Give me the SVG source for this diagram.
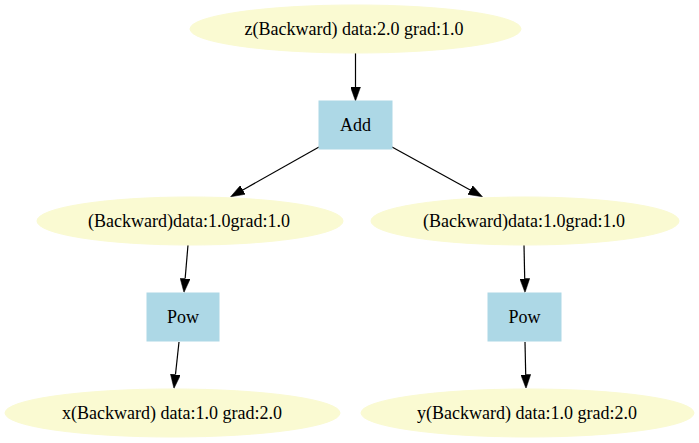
<svg xmlns="http://www.w3.org/2000/svg" width="699" height="443" viewBox="0 0 699 443">
<style>
.var{fill:#fafad2;stroke:#fafad2}
.op{fill:#add8e6;stroke:#add8e6}
.edge{stroke:#000;stroke-width:1.2;fill:none}
</style>
<defs>
<marker id="arr" viewBox="0 0 14 10" refX="0" refY="5" markerWidth="14" markerHeight="10" markerUnits="userSpaceOnUse" orient="auto">
<path d="M0,0 L14,5 L0,10 z" fill="#000" stroke="#000" stroke-width="0.5"/>
</marker>
</defs>
<rect width="699" height="443" fill="#fff"/>
<g id="edges">
<path class="edge" marker-end="url(#arr)" d="M355.5,53 L355.5,87"/>
<path class="edge" marker-end="url(#arr)" d="M319,147 L242.8,189.9"/>
<path class="edge" marker-end="url(#arr)" d="M392,147 L470.2,190"/>
<path class="edge" marker-end="url(#arr)" d="M188,245 L185.15,278.55"/>
<path class="edge" marker-end="url(#arr)" d="M179,342 L175.46,374.58"/>
<path class="edge" marker-end="url(#arr)" d="M524,245 L524.71,278.5"/>
<path class="edge" marker-end="url(#arr)" d="M525,342 L525.71,374.5"/>
</g>
<g font-family="Liberation Serif, Times New Roman, DejaVu Serif, serif" font-size="18" text-anchor="middle" fill="#000">
<g id="z">
<ellipse class="var" cx="355.5" cy="29" rx="165.5" ry="24"/>
<text x="354" y="35">z(Backward) data:2.0 grad:1.0</text>
</g>
<g id="add">
<rect class="op" x="319" y="101" width="73" height="48"/>
<text x="355.5" y="131">Add</text>
</g>
<g id="mid_left">
<ellipse class="var" cx="190" cy="221" rx="153" ry="24"/>
<text x="189" y="227">(Backward)data:1.0grad:1.0</text>
</g>
<g id="mid_right">
<ellipse class="var" cx="525" cy="221" rx="154" ry="24"/>
<text x="524" y="227">(Backward)data:1.0grad:1.0</text>
</g>
<g id="pow_left">
<rect class="op" x="147" y="293" width="72" height="48"/>
<text x="183" y="323">Pow</text>
</g>
<g id="pow_right">
<rect class="op" x="488" y="293" width="73" height="48"/>
<text x="524.5" y="323">Pow</text>
</g>
<g id="x">
<ellipse class="var" cx="172.5" cy="413" rx="167.5" ry="24"/>
<text x="172" y="419">x(Backward) data:1.0 grad:2.0</text>
</g>
<g id="y">
<ellipse class="var" cx="527.5" cy="413" rx="166.5" ry="24"/>
<text x="527" y="419">y(Backward) data:1.0 grad:2.0</text>
</g>
</g>
</svg>
